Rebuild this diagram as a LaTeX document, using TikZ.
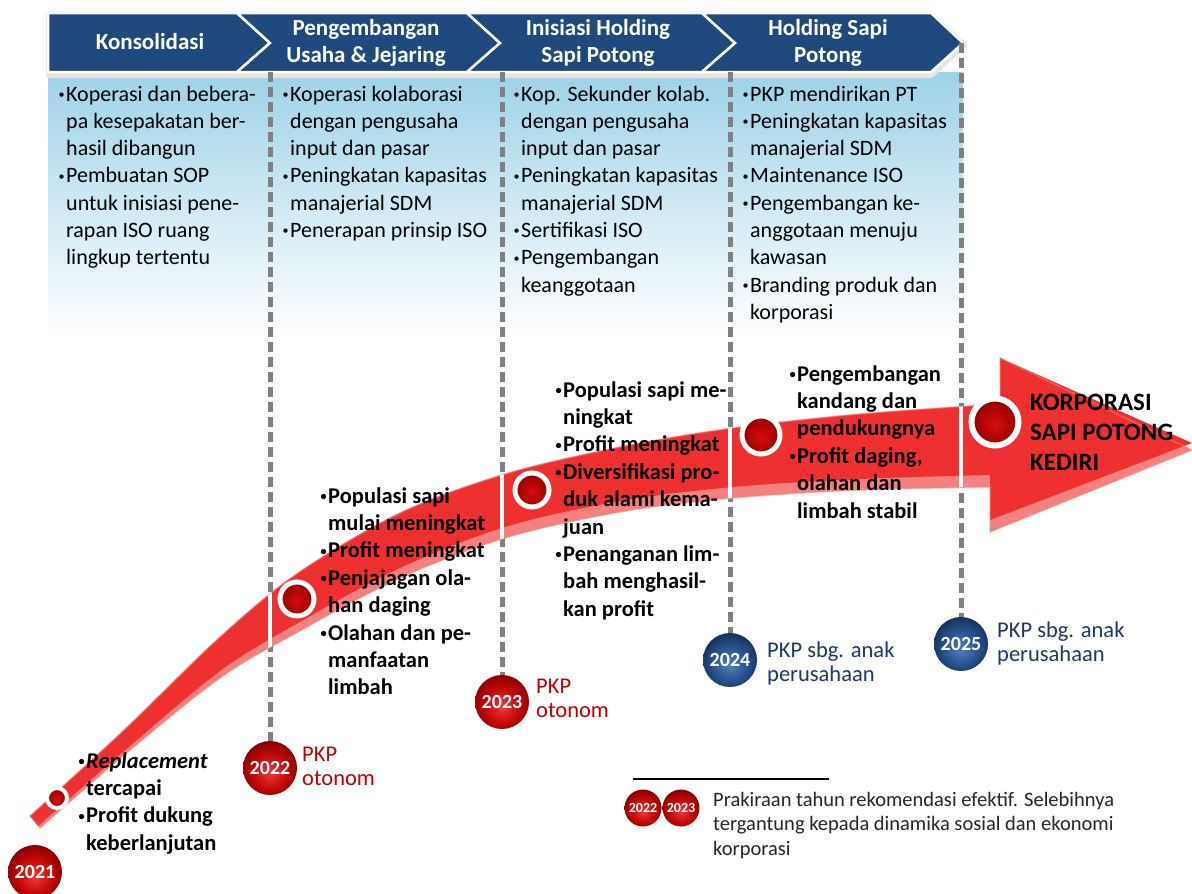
\documentclass[tikz,border=0pt]{standalone}
\usepackage{fontspec}
\usepackage{graphicx}
\setmainfont{Carlito}
\usetikzlibrary{calc}

\definecolor{hdrblue}{RGB}{31,73,125}
\definecolor{panelblue}{RGB}{158,210,232}
\definecolor{dashgrey}{RGB}{128,128,128}
\definecolor{arrowred}{RGB}{238,48,48}
\definecolor{arrowrim}{RGB}{244,128,128}
\definecolor{labelred}{RGB}{192,0,0}
\definecolor{labelnavy}{RGB}{31,56,100}
\definecolor{sphA}{RGB}{236,58,58}
\definecolor{sphB}{RGB}{196,8,8}
\definecolor{sphC}{RGB}{135,0,0}
\definecolor{bsphA}{RGB}{84,124,184}
\definecolor{bsphB}{RGB}{40,82,142}
\definecolor{bsphC}{RGB}{22,46,90}
\definecolor{dotA}{RGB}{214,12,12}
\definecolor{dotB}{RGB}{150,0,0}

\pgfdeclareradialshading{redsphere}{\pgfpoint{0bp}{-5bp}}{color(0bp)=(sphA); color(16bp)=(sphB); color(28bp)=(sphC); color(50bp)=(sphC)}
\pgfdeclareradialshading{bluesphere}{\pgfpoint{0bp}{-5bp}}{color(0bp)=(bsphA); color(16bp)=(bsphB); color(28bp)=(bsphC); color(50bp)=(bsphC)}
\pgfdeclareradialshading{reddot}{\pgfpoint{0bp}{-3bp}}{color(0bp)=(dotA); color(25bp)=(dotB); color(50bp)=(dotB)}

% small list bullet with a hanging indent
\newcommand{\bul}{\makebox[8pt][l]{\hspace{0.5pt}\raisebox{2.6pt}{\scalebox{0.55}{\textbullet}}}}

% outline of the whole band, including its pale lower rim
\def\bandouter{plot[smooth,tension=0.55] coordinates {(30,816) (123,731) (220,637) (298,573) (400,513) (505,474) (620,447) (733,428) (860,414) (1000,404)}
  -- (1000,358) -- (1192,450) -- (990,532)
  -- plot[smooth,tension=0.55] coordinates {(990,487) (860,490) (733,498) (620,512) (505,538) (400,578) (298,632) (220,678) (123,756) (40,828)} -- cycle}
% red upper face of the band
\def\bandface{plot[smooth,tension=0.55] coordinates {(30,816) (123,731) (220,637) (298,573) (400,513) (505,474) (620,447) (733,428) (860,414) (1000,404)}
  -- (1000,358) -- (1192,443) -- (990,520)
  -- plot[smooth,tension=0.55] coordinates {(990,475) (860,479) (733,487) (620,501) (505,527) (400,568) (298,623) (220,671) (123,752) (38,826)} -- cycle}

\begin{document}
\begin{tikzpicture}[x=1pt,y=-1pt,
  hdr/.style={fill=hdrblue, draw=white, line width=2.5pt, line join=miter},
  hdrtext/.style={text=white, inner sep=0, font=\fontsize{23}{27}\selectfont\bfseries},
  toptext/.style={anchor=base west, inner sep=0, font=\fontsize{22}{27.3}\selectfont},
  boldtext/.style={anchor=base west, inner sep=0, font=\fontsize{22.5}{27.4}\selectfont\bfseries},
  yearlabel/.style={anchor=base west, inner sep=0, font=\fontsize{22.5}{24}\selectfont},
  dashline/.style={draw=dashgrey, line width=5pt, dash pattern=on 10pt off 5pt},
  redball/.style={circle, minimum size=54pt, inner sep=0, shade, shading=redsphere, text=white, font=\fontsize{20}{20}\selectfont\bfseries},
  blueball/.style={circle, minimum size=54pt, inner sep=0, shade, shading=bluesphere, text=white, font=\fontsize{20}{20}\selectfont\bfseries},
  smallball/.style={circle, minimum size=37pt, inner sep=0, shade, shading=redsphere, text=white, font=\fontsize{14}{14}\selectfont\bfseries},
  marker/.style={circle, draw=white, line width=#1, inner sep=0, shade, shading=reddot},
]
\useasboundingbox (0,0) rectangle (1192,894);
\fill[white] (0,0) rectangle (1192,894);

% light blue panel under the phase header
\shade[top color=panelblue, middle color=panelblue!55, bottom color=white] (48,72) rectangle (963,335);

% header shadow and phase chevrons
\draw[black!10, line width=6pt, line join=round] (49,15) -- (931,15) -- (964,45) -- (931,75) -- (49,75) -- cycle;
\path[hdr] (48,13) -- (237,13) -- (270,43) -- (237,72) -- (48,72) -- cycle;
\path[hdr] (237,13) -- (467,13) -- (500,43) -- (467,72) -- (237,72) -- (270,43) -- cycle;
\path[hdr] (467,13) -- (702,13) -- (735,43) -- (702,72) -- (467,72) -- (500,43) -- cycle;
\path[hdr] (702,13) -- (931,13) -- (963,43) -- (931,72) -- (702,72) -- (735,43) -- cycle;

\node[hdrtext] (h1) at (150,44) {\begin{tabular}{@{}c@{}}Konsolidasi\end{tabular}};
\node[hdrtext] (h2) at (366,44) {\begin{tabular}{@{}c@{}}Pengembangan\\Usaha \& Jejaring\end{tabular}};
\node[hdrtext] (h3) at (598,44) {\begin{tabular}{@{}c@{}}Inisiasi Holding\\Sapi Potong\end{tabular}};
\node[hdrtext] (h4) at (828,44) {\begin{tabular}{@{}c@{}}Holding Sapi\\Potong\end{tabular}};

% year balls at the foot of the phase boundaries
\node[redball]  (y2021) at (35,872)  {2021};
\node[redball]  (y2022) at (270,768) {2022};
\node[redball]  (y2023) at (502,702) {2023};
\node[blueball] (y2024) at (730,660) {2024};
\node[blueball] (y2025) at (961,644) {2025};

% phase boundaries
\coordinate (b1) at (270,72);
\coordinate (b2) at (502,72);
\coordinate (b3) at (730,72);
\coordinate (b4) at (961,43);
\draw[dashline] (b1) -- (y2022.north);
\draw[dashline] (b2) -- (y2023.north);
\draw[dashline] (b3) -- (y2024.north);
\draw[dashline] (b4) -- (y2025.north);

% rising arrow
\fill[arrowrim] \bandouter;
\fill[arrowred] \bandface;
\draw[arrowred!60!white, line width=1.5pt, opacity=0.5] \bandouter;
\begin{scope}
  \clip \bandouter;
  \foreach \xx in {270,502,730,961} \draw[white, line width=4.5pt] (\xx,300) -- (\xx,900);
\end{scope}

% milestones on the arrow
\node[marker=4pt, minimum size=20pt] (m2021) at (57,798) {};
\node[marker=5pt, minimum size=34pt] (m2022) at (297,599) {};
\node[marker=5pt, minimum size=34pt] (m2023) at (532,490) {};
\node[marker=5pt, minimum size=38pt] (m2024) at (761,435) {};
\node[marker=6pt, minimum size=47pt] (mend) at (995,422) {};

% activities per phase
\node[toptext] (t1) at (58,101) {\begin{tabular}[t]{@{}l@{}l@{}}
\bul & Koperasi dan bebera-\\
 & pa kesepakatan ber-\\
 & hasil dibangun\\
\bul & Pembuatan SOP\\
 & untuk inisiasi pene-\\
 & rapan ISO ruang\\
 & lingkup tertentu
\end{tabular}};
\node[toptext] (t2) at (282,101) {\begin{tabular}[t]{@{}l@{}l@{}}
\bul & Koperasi kolaborasi\\
 & dengan pengusaha\\
 & input dan pasar\\
\bul & Peningkatan kapasitas\\
 & manajerial SDM\\
\bul & Penerapan prinsip ISO
\end{tabular}};
\node[toptext] (t3) at (513,101) {\begin{tabular}[t]{@{}l@{}l@{}}
\bul & Kop. Sekunder kolab.\\
 & dengan pengusaha\\
 & input dan pasar\\
\bul & Peningkatan kapasitas\\
 & manajerial SDM\\
\bul & Sertifikasi ISO\\
\bul & Pengembangan\\
 & keanggotaan
\end{tabular}};
\node[toptext] (t4) at (742,101) {\begin{tabular}[t]{@{}l@{}l@{}}
\bul & PKP mendirikan PT\\
\bul & Peningkatan kapasitas\\
 & manajerial SDM\\
\bul & Maintenance ISO\\
\bul & Pengembangan ke-\\
 & anggotaan menuju\\
 & kawasan\\
\bul & Branding produk dan\\
 & korporasi
\end{tabular}};

% outcomes along the arrow
\node[boldtext] (o1) at (78,768) {\begin{tabular}[t]{@{}l@{}l@{}}
\bul & \textit{Replacement}\\
 & tercapai\\
\bul & Profit dukung\\
 & keberlanjutan
\end{tabular}};
\node[boldtext] (o2) at (320,503) {\begin{tabular}[t]{@{}l@{}l@{}}
\bul & Populasi sapi\\
 & mulai meningkat\\
\bul & Profit meningkat\\
\bul & Penjajagan ola-\\
 & han daging\\
\bul & Olahan dan pe-\\
 & manfaatan\\
 & limbah
\end{tabular}};
\node[boldtext] (o3) at (555,397) {\begin{tabular}[t]{@{}l@{}l@{}}
\bul & Populasi sapi me-\\
 & ningkat\\
\bul & Profit meningkat\\
\bul & Diversifikasi pro-\\
 & duk alami kema-\\
 & juan\\
\bul & Penanganan lim-\\
 & bah menghasil-\\
 & kan profit
\end{tabular}};
\node[boldtext] (o4) at (789,381) {\begin{tabular}[t]{@{}l@{}l@{}}
\bul & Pengembangan\\
 & kandang dan\\
 & pendukungnya\\
\bul & Profit daging,\\
 & olahan dan\\
 & limbah stabil
\end{tabular}};
\node[anchor=base west, inner sep=0, font=\fontsize{25}{30}\selectfont\bfseries] (goal) at (1030,410)
  {\begin{tabular}[t]{@{}l@{}}KORPORASI\\SAPI POTONG\\KEDIRI\end{tabular}};

% status of PKP per year
\node[yearlabel, text=labelred] (s2022) at (302,761) {\begin{tabular}[t]{@{}l@{}}PKP\\otonom\end{tabular}};
\node[yearlabel, text=labelred] (s2023) at (536,693) {\begin{tabular}[t]{@{}l@{}}PKP\\otonom\end{tabular}};
\node[yearlabel, text=labelnavy] (s2024) at (767,657) {\begin{tabular}[t]{@{}l@{}}PKP sbg. anak\\perusahaan\end{tabular}};
\node[yearlabel, text=labelnavy] (s2025) at (997,637) {\begin{tabular}[t]{@{}l@{}}PKP sbg. anak\\perusahaan\end{tabular}};

% legend
\coordinate (rule1) at (633,779);
\coordinate (rule2) at (829,779);
\draw[black, line width=2pt] (rule1) -- (rule2);
\node[smallball] (lg1) at (643,808) {2022};
\node[smallball] (lg2) at (681,808) {2023};
\node[anchor=base west, inner sep=0, font=\fontsize{20.5}{24.5}\selectfont, text=black!85] (lgtext) at (713,806)
  {\begin{tabular}[t]{@{}l@{}}Prakiraan tahun rekomendasi efektif. Selebihnya\\tergantung kepada dinamika sosial dan ekonomi\\korporasi\end{tabular}};
\end{tikzpicture}
\end{document}
